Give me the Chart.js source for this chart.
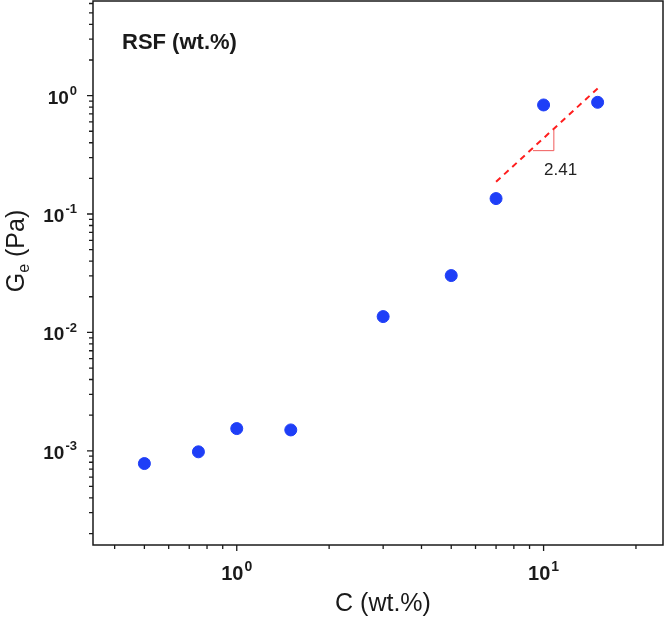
<!DOCTYPE html>
<html>
<head>
<meta charset="utf-8">
<script src="https://cdn.jsdelivr.net/npm/chart.js@4.4.1/dist/chart.umd.min.js"></script>
<style>
	html, body { margin: 0; padding: 0; background: #fff; }
	canvas { display: block; }
</style>
</head>
<body>
<canvas id="myChart" width="664" height="619"></canvas>
<script>
const ctx = document.getElementById('myChart');

// RSF concentration (wt.%) and plateau modulus Ge (Pa)
const concentrations = [0.5, 0.75, 1.0, 1.5, 3, 5, 7, 10, 15];
const modulus = [0.00078, 0.00098, 0.00154, 0.0015, 0.0136, 0.0302, 0.135, 0.834, 0.878];

// dashed power-law fit, slope 2.41
const fitX = [7, 15];
const fitY = [0.187, 1.15];

// small slope triangle under the fit line
const slopeTriX = [9.23, 10.8, 10.8];
const slopeTriY = [0.343, 0.343, 0.516];
const slopeText = '2.41';

// axis ranges and ticks
const xMin = 0.34, xMax = 24.5;
const yMin = 0.00016, yMax = 6.3;
const xMajorTicks = [1, 10];
const xMinorTicks = [0.4, 0.5, 0.6, 0.7, 0.8, 0.9, 2, 3, 4, 5, 6, 7, 8, 9, 20];
const yMajorTicks = [0.001, 0.01, 0.1, 1];
const yMinorTicks = [0.0002, 0.0003, 0.0004, 0.0005, 0.0006, 0.0007, 0.0008, 0.0009,
	0.002, 0.003, 0.004, 0.005, 0.006, 0.007, 0.008, 0.009,
	0.02, 0.03, 0.04, 0.05, 0.06, 0.07, 0.08, 0.09,
	0.2, 0.3, 0.4, 0.5, 0.6, 0.7, 0.8, 0.9, 2, 3, 4, 5, 6];

const toPoints = (xs, ys) => xs.map((v, i) => ({ x: v, y: ys[i] }));

const ink = '#1a1a1a';
const font = '"Liberation Sans", Arial, sans-serif';

// draws 10 with a superscript exponent; anchor = 'right' or 'center'
function drawPower(c, exp, px, baseline, size, anchor) {
	c.font = 'bold ' + size + 'px ' + font;
	const base = '10';
	const wBase = c.measureText(base).width;
	const supSize = Math.round(size * 0.68);
	c.font = 'bold ' + supSize + 'px ' + font;
	const sup = String(exp);
	const wSup = c.measureText(sup).width;
	const total = wBase + 1 + wSup;
	const left = anchor === 'right' ? px - total : px - total / 2;
	c.textAlign = 'left';
	c.textBaseline = 'alphabetic';
	c.font = 'bold ' + size + 'px ' + font;
	c.fillText(base, left, baseline);
	c.font = 'bold ' + supSize + 'px ' + font;
	c.fillText(sup, left + wBase + 1, baseline - size * 0.45);
}

const framePlugin = {
	id: 'frame',
	afterDraw(chart) {
		const c = chart.ctx;
		const a = chart.chartArea;
		const x = chart.scales.x;
		const y = chart.scales.y;
		c.save();
		c.strokeStyle = ink;
		c.fillStyle = ink;
		c.lineWidth = 1.5;
		c.strokeRect(a.left, a.top, a.right - a.left, a.bottom - a.top);

		// tick marks, outward
		c.lineWidth = 1.3;
		c.beginPath();
		xMajorTicks.forEach(v => { const p = x.getPixelForValue(v); c.moveTo(p, a.bottom); c.lineTo(p, a.bottom + 6); });
		xMinorTicks.forEach(v => { const p = x.getPixelForValue(v); c.moveTo(p, a.bottom); c.lineTo(p, a.bottom + 4); });
		yMajorTicks.forEach(v => { const p = y.getPixelForValue(v); c.moveTo(a.left, p); c.lineTo(a.left - 6, p); });
		yMinorTicks.forEach(v => { const p = y.getPixelForValue(v); c.moveTo(a.left, p); c.lineTo(a.left - 4, p); });
		c.stroke();

		// tick labels
		xMajorTicks.forEach(v => drawPower(c, Math.round(Math.log10(v)), x.getPixelForValue(v), a.bottom + 35, 20, 'center'));
		yMajorTicks.forEach(v => drawPower(c, Math.round(Math.log10(v)), a.left - 16, y.getPixelForValue(v) + 8, 19, 'right'));

		// axis titles
		c.font = '25px ' + font;
		c.textAlign = 'center';
		c.fillText('C (wt.%)', 383, 611);

		c.save();
		c.translate(24, 251);
		c.rotate(-Math.PI / 2);
		const g = 'G', sub = 'e', rest = ' (Pa)';
		c.font = '25px ' + font;
		const wG = c.measureText(g).width;
		const wRest = c.measureText(rest).width;
		c.font = '16px ' + font;
		const wSub = c.measureText(sub).width;
		let left = -(wG + wSub + wRest) / 2;
		c.textAlign = 'left';
		c.font = '25px ' + font;
		c.fillText(g, left, 0);
		c.font = '16px ' + font;
		c.fillText(sub, left + wG, 5);
		c.font = '25px ' + font;
		c.fillText(rest, left + wG + wSub, 0);
		c.restore();

		// panel label
		c.font = 'bold 22px ' + font;
		c.textAlign = 'left';
		c.fillText('RSF (wt.%)', a.left + 29, 49);

		// slope value
		c.font = '17px ' + font;
		c.fillStyle = '#222';
		c.textAlign = 'center';
		c.fillText(slopeText, x.getPixelForValue(11.36), y.getPixelForValue(0.246) + 7);
		c.restore();
	}
};

new Chart(ctx, {
	type: 'scatter',
	data: {
		datasets: [
			{
				data: toPoints(fitX, fitY),
				showLine: true,
				borderColor: 'rgba(255, 30, 30, 1)',
				borderWidth: 2,
				borderDash: [6, 5],
				pointRadius: 0,
			},
			{
				data: toPoints(slopeTriX, slopeTriY),
				showLine: true,
				borderColor: 'rgba(240, 90, 90, 1)',
				borderWidth: 1,
				pointRadius: 0,
			},
			{
				data: toPoints(concentrations, modulus),
				backgroundColor: 'rgba(30, 62, 247, 1)',
				borderColor: 'rgba(30, 62, 247, 1)',
				pointRadius: 6,
				pointHoverRadius: 6,
			},
		],
	},
	options: {
		responsive: false,
		animation: false,
		events: [],
		layout: {
			autoPadding: false,
			padding: { left: 93, top: 1, right: 1, bottom: 74 }
		},
		plugins: {
			legend: false,
			tooltip: { enabled: false }
		},
		scales: {
			x: {
				type: 'logarithmic',
				min: xMin,
				max: xMax,
				bounds: 'data',
				display: false,
				afterBuildTicks: s => { s.min = xMin; s.max = xMax; }
			},
			y: {
				type: 'logarithmic',
				min: yMin,
				max: yMax,
				bounds: 'data',
				display: false,
				afterBuildTicks: s => { s.min = yMin; s.max = yMax; }
			}
		}
	},
	plugins: [framePlugin]
});
</script>
</body>
</html>
